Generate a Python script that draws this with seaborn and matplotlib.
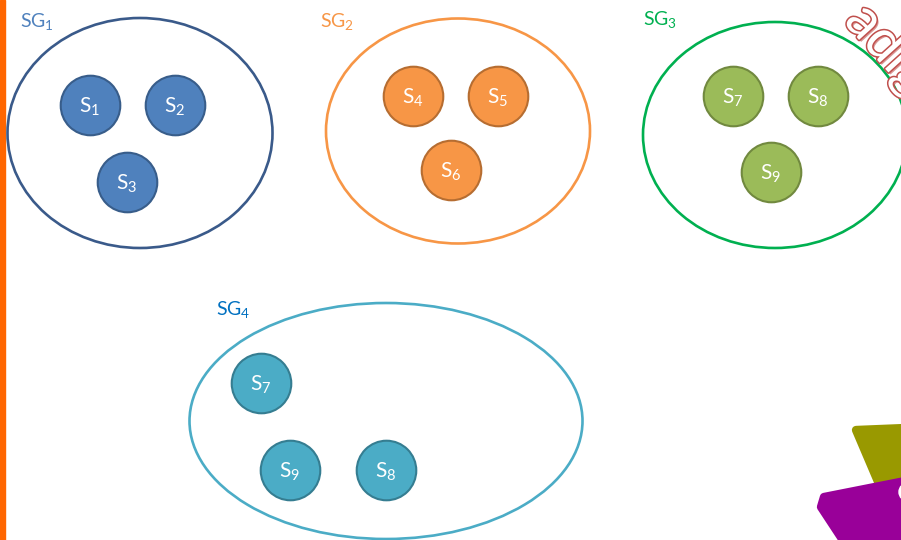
import numpy as np
import pandas as pd
import matplotlib
matplotlib.use("Agg")
import matplotlib.pyplot as plt
import matplotlib.patches as mpatches
import matplotlib.patheffects as pe
import seaborn as sns

# groups (ellipses) and the sensors inside them
groups = ["SG1", "SG2", "SG3", "SG4"]
group_sub = ["1", "2", "3", "4"]
group_cx = [140, 458, 775, 386]
group_cy = [133, 131, 135, 421]
group_w = [265, 264, 264, 393]
group_h = [230, 225, 226, 236]
group_lab_x = [20, 320, 643, 216]
group_lab_y = [21, 22, 20, 309]
group_edge = ["#3A5A8A", "#F79646", "#00B050", "#4BACC6"]
group_text = ["#4F81BD", "#F79646", "#00B050", "#0070C0"]

node_group = ["SG1", "SG1", "SG1", "SG2", "SG2", "SG2", "SG3", "SG3", "SG3", "SG4", "SG4", "SG4"]
node_sub = ["1", "2", "3", "4", "5", "6", "7", "8", "9", "7", "9", "8"]
node_x = [90, 175, 127, 413, 498, 451, 733, 818, 771, 261, 290, 386]
node_y = [105, 105, 182, 96, 96, 170, 96, 96, 172, 383, 470, 470]
node_fill = {"SG1": "#4F81BD", "SG2": "#F79646", "SG3": "#9BBB59", "SG4": "#4BACC6"}
node_edge = {"SG1": "#385D8A", "SG2": "#B66D31", "SG3": "#71893F", "SG4": "#357D91"}

nodes = pd.DataFrame({"group": node_group, "sub": node_sub, "x": node_x, "y": node_y})

sns.set_theme(style="white")
plt.rcParams["font.family"] = ["Lato", "DejaVu Sans"]
plt.rcParams["mathtext.default"] = "regular"

fig = plt.figure(figsize=(9.01, 5.40), dpi=100)
ax = fig.add_axes([0, 0, 1, 1])
ax.set_xlim(0, 901)
ax.set_ylim(540, 0)
ax.axis("off")

# orange bar on the left edge
ax.add_patch(mpatches.Rectangle((0, 0), 5, 540, color="#FF6600", zorder=1))

for i, g in enumerate(groups):
    ax.add_patch(mpatches.Ellipse((group_cx[i], group_cy[i]), group_w[i], group_h[i],
                                  fill=False, edgecolor=group_edge[i], linewidth=1.9, zorder=2))
    ax.text(group_lab_x[i], group_lab_y[i], "SG$_{%s}$" % group_sub[i], color=group_text[i],
            fontsize=14, ha="left", va="center", zorder=3)

for g, sub in nodes.groupby("group"):
    sns.scatterplot(data=sub, x="x", y="y", ax=ax, s=1840, color=node_fill[g],
                    edgecolor=node_edge[g], linewidth=1.5, zorder=4, legend=False)
for _, r in nodes.iterrows():
    ax.text(r["x"], r["y"] + 2, "S$_{%s}$" % r["sub"], color="white", fontsize=15,
            ha="center", va="center", zorder=5)

ax.set_xlim(0, 901)
ax.set_ylim(540, 0)

# decorative bits on the right edge
ax.text(843, 22, "adig", color="white", fontsize=40, rotation=-48, rotation_mode="anchor",
        ha="left", va="baseline", zorder=6, clip_on=True,
        path_effects=[pe.withSimplePatchShadow(offset=(1.5, -1.5), shadow_rgbFace="#C0504D", alpha=0.6),
                      pe.withStroke(linewidth=2.2, foreground="#C0504D")])
ax.add_patch(mpatches.Polygon([(856, 430), (905, 428), (905, 484), (879, 484)], closed=True,
                              facecolor="#999900", edgecolor="#999900", linewidth=6,
                              joinstyle="round", zorder=6))
ax.add_patch(mpatches.Polygon([(824, 497), (905, 481), (905, 545), (846, 545), (821, 507)], closed=True,
                              facecolor="#990099", edgecolor="#990099", linewidth=6,
                              joinstyle="round", zorder=7))
ax.add_patch(mpatches.Circle((908, 492), 9, color="white", zorder=8))

fig.savefig("out.png", dpi=100)
